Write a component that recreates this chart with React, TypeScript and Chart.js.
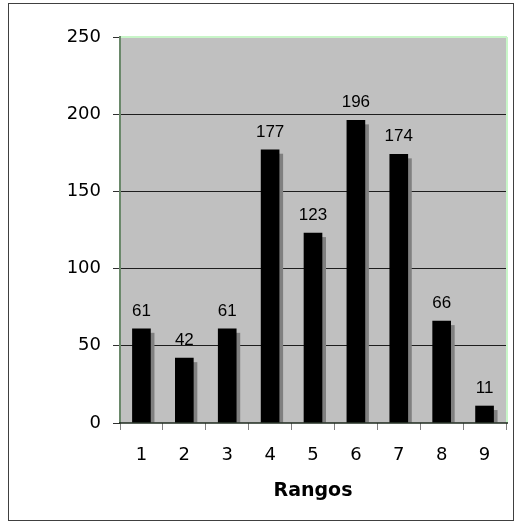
import { useEffect, useRef } from 'react';
import { Chart, registerables } from 'chart.js';

Chart.register(...registerables);

const categories = ['1', '2', '3', '4', '5', '6', '7', '8', '9'];
const counts = [61, 42, 61, 177, 123, 196, 174, 66, 11];
const yTickValues = [0, 50, 100, 150, 200, 250];
const xAxisTitle = 'Rangos';

const WIDTH = 515;
const HEIGHT = 523;

// Gray plot background and outer frame
const backdropPlugin = {
  id: 'backdrop',
  beforeDraw(chart: any) {
    const { ctx, chartArea } = chart;
    ctx.save();
    ctx.fillStyle = '#ffffff';
    ctx.fillRect(0, 0, chart.width, chart.height);
    ctx.fillStyle = '#c0c0c0';
    ctx.fillRect(chartArea.left, chartArea.top, chartArea.right - chartArea.left, chartArea.bottom - chartArea.top);
    ctx.restore();
  },
  afterDraw(chart: any) {
    const { ctx } = chart;
    ctx.save();
    ctx.strokeStyle = '#404040';
    ctx.lineWidth = 1;
    ctx.strokeRect(8.5, 3.5, 505, 517);
    ctx.restore();
  },
};

// Flat gray drop shadow behind every bar
const shadowPlugin = {
  id: 'barShadow',
  beforeDatasetsDraw(chart: any) {
    const { ctx, chartArea } = chart;
    const meta = chart.getDatasetMeta(0);
    ctx.save();
    ctx.beginPath();
    ctx.rect(chartArea.left, chartArea.top, chartArea.right - chartArea.left, chartArea.bottom - chartArea.top);
    ctx.clip();
    ctx.fillStyle = '#808080';
    meta.data.forEach((bar: any) => {
      const { x, y, width, base } = bar.getProps(['x', 'y', 'width', 'base'], true);
      const h = base - y - 4;
      if (h > 0) ctx.fillRect(x - width / 2 + 4, y + 4, width, h);
    });
    ctx.restore();
  },
};

// Plot frame lines and value labels above the bars
const frameAndLabelsPlugin = {
  id: 'frameAndLabels',
  afterDatasetsDraw(chart: any) {
    const { ctx, chartArea } = chart;
    const { left, right, top, bottom } = chartArea;
    ctx.save();
    ctx.lineWidth = 2;
    ctx.strokeStyle = '#c8f5c8';
    ctx.beginPath();
    ctx.moveTo(left, top);
    ctx.lineTo(right + 1, top);
    ctx.moveTo(right + 1, top);
    ctx.lineTo(right + 1, bottom);
    ctx.stroke();

    ctx.strokeStyle = '#6a886a';
    ctx.beginPath();
    ctx.moveTo(left, top - 1);
    ctx.lineTo(left, bottom);
    ctx.stroke();

    ctx.lineWidth = 1.5;
    ctx.strokeStyle = '#1e2a1e';
    ctx.beginPath();
    ctx.moveTo(left - 1, bottom);
    ctx.lineTo(right + 2, bottom);
    ctx.stroke();

    const meta = chart.getDatasetMeta(0);
    ctx.fillStyle = '#000000';
    ctx.font = '17px "Liberation Sans", Arial, sans-serif';
    ctx.textAlign = 'center';
    ctx.textBaseline = 'alphabetic';
    meta.data.forEach((bar: any, i: number) => {
      const { x, y } = bar.getProps(['x', 'y'], true);
      ctx.fillText(String(counts[i]), x, y - 13);
    });
    ctx.restore();
  },
};

export default function App() {
  const canvasRef = useRef<HTMLCanvasElement | null>(null);

  useEffect(() => {
    const canvas = canvasRef.current;
    if (!canvas) return;
    const chart = new Chart(canvas, {
      type: 'bar',
      data: {
        labels: categories,
        datasets: [
          {
            data: counts,
            backgroundColor: '#000000',
            borderWidth: 0,
            barThickness: 18,
          },
        ],
      },
      options: {
        responsive: false,
        animation: false,
        devicePixelRatio: 1,
        layout: { padding: { top: 37, right: 9, left: 0, bottom: 0 } },
        plugins: {
          legend: { display: false },
          tooltip: { enabled: false },
        },
        scales: {
          x: {
            grid: {
              drawOnChartArea: false,
              offset: true,
              tickLength: 7,
              tickColor: '#808080',
              lineWidth: 1,
            },
            border: { display: false },
            ticks: {
              font: { family: 'DejaVu Sans', size: 18 },
              color: '#000000',
              padding: 15,
              maxRotation: 0,
            },
            title: {
              display: true,
              text: xAxisTitle,
              color: '#000000',
              font: { family: 'DejaVu Sans', size: 19, weight: 'bold' },
              padding: { top: 0, bottom: 21 },
            },
            afterFit(scale: any) {
              scale.height = 100;
            },
          },
          y: {
            min: 0,
            max: 250,
            afterBuildTicks(scale: any) {
              scale.ticks = yTickValues.map((v) => ({ value: v }));
            },
            grid: {
              color: (c: any) =>
                c.tick && c.tick.value > 0 && c.tick.value < 250 ? '#1e1e1e' : 'rgba(0,0,0,0)',
              tickColor: '#303030',
              tickLength: 7,
              lineWidth: 1,
            },
            border: { display: false },
            ticks: {
              font: { family: 'DejaVu Sans', size: 18 },
              color: '#000000',
              padding: 12,
            },
            afterFit(scale: any) {
              scale.width = 120;
            },
          },
        },
      },
      plugins: [backdropPlugin, shadowPlugin, frameAndLabelsPlugin],
    });
    return () => chart.destroy();
  }, []);

  return (
    <div style={{ position: 'fixed', left: 0, top: 0, width: WIDTH, height: HEIGHT }}>
      <canvas ref={canvasRef} width={WIDTH} height={HEIGHT} style={{ display: 'block' }} />
    </div>
  );
}
